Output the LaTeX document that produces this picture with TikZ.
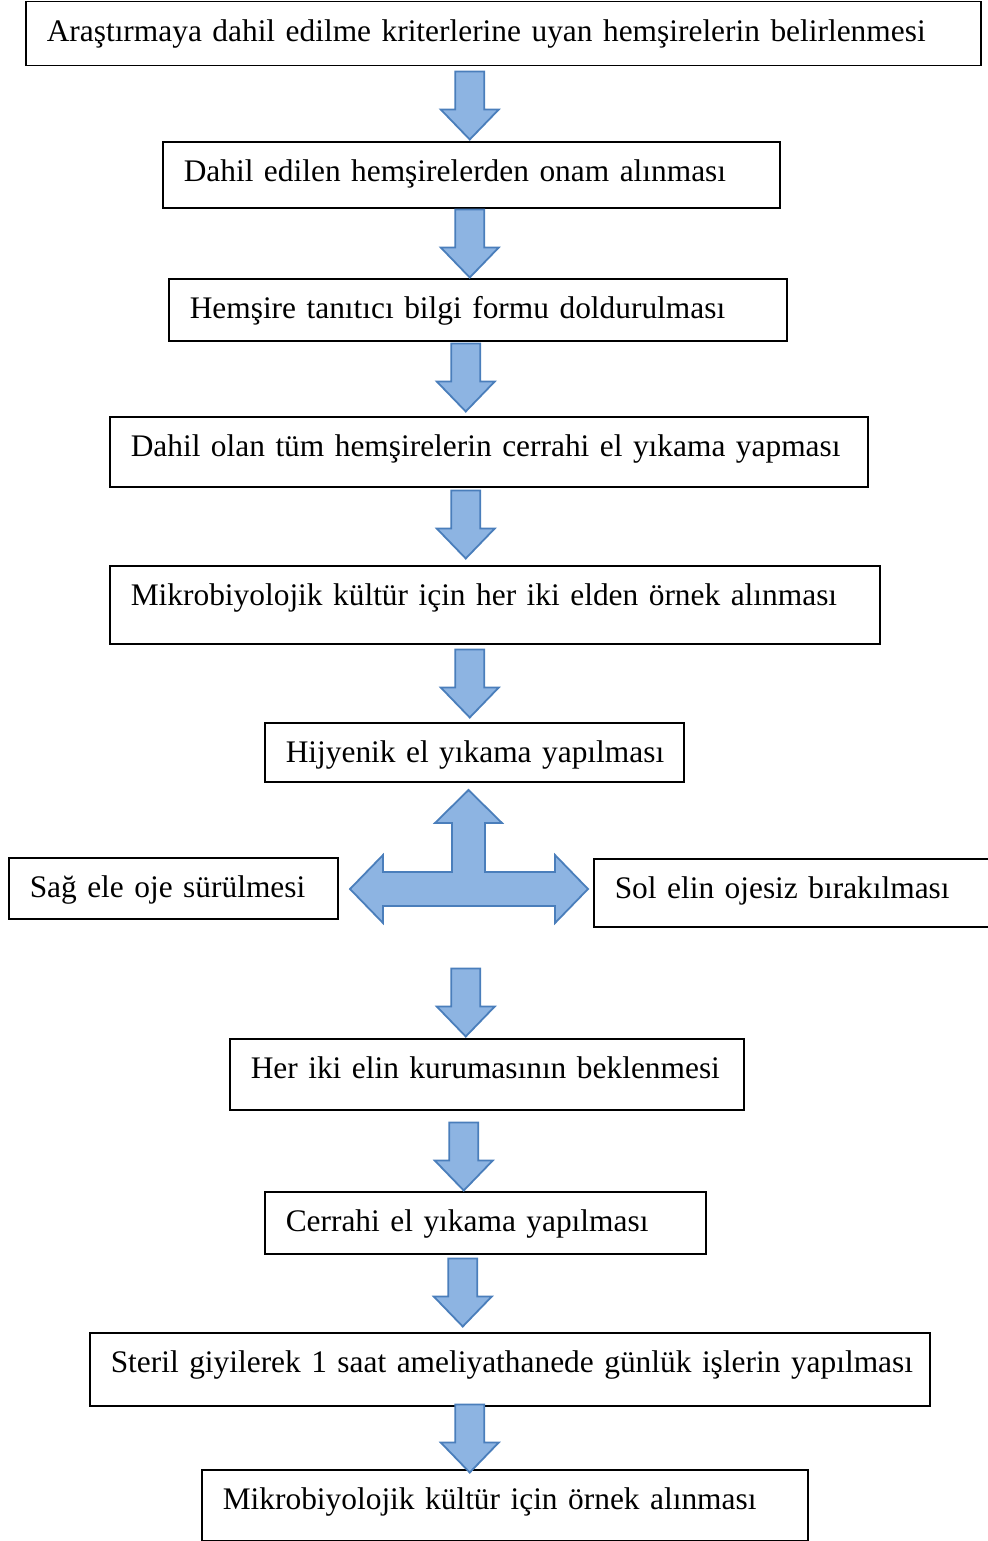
\documentclass[tikz,border=0pt]{standalone}
\usepackage{fontspec}
\setmainfont{Liberation Serif}
\usepackage{tikz}

\definecolor{okdolgu}{RGB}{141,180,226}
\definecolor{okcizgi}{RGB}{74,126,187}

\tikzset{
	kutu/.style={draw, line width=0.75pt, anchor=north west, align=left,
		inner xsep=10.5pt, inner ysep=0pt, text height=20pt,
		font=\fontsize{15.7}{19}\selectfont,
		execute at begin node=\hbox\bgroup, execute at end node=\egroup},
	blok/.style={fill=okdolgu, draw=okcizgi, line width=0.9pt, line join=miter},
	asagi/.pic={\draw[blok] (-14.5,0) -- (14.5,0) -- (14.5,38) -- (29,38) -- (0,68)
		-- (-29,38) -- (-14.5,38) -- cycle;}
}

\begin{document}
\begin{tikzpicture}[x=0.5pt, y=-0.5pt]
	\clip (0,0) rectangle (988,1541);
	\node[kutu, text width=456.5pt, text depth=12pt] (secim) at (25,1)
		{Araştırmaya dahil edilme kriterlerine uyan hemşirelerin belirlenmesi};
	\node[kutu, text width=287.5pt, text depth=13pt] (onam) at (162,141)
		{Dahil edilen hemşirelerden onam alınması};
	\node[kutu, text width=288pt, text depth=11pt] (form) at (168,278)
		{Hemşire tanıtıcı bilgi formu doldurulması};
	\node[kutu, text width=358pt, text depth=15pt] (cerrahi1) at (109,416)
		{Dahil olan tüm hemşirelerin cerrahi el yıkama yapması};
	\node[kutu, text width=364pt, text depth=19pt] (ornek1) at (109,565)
		{Mikrobiyolojik kültür için her iki elden örnek alınması};
	\node[kutu, text width=188.5pt, text depth=9.5pt] (hijyenik) at (264,722)
		{Hijyenik el yıkama yapılması};
	\node[kutu, text width=143.5pt, text depth=10.5pt] (sag) at (8,857)
		{Sağ ele oje sürülmesi};
	\node[kutu, text width=182.5pt, text depth=14pt] (sol) at (593,858)
		{Sol elin ojesiz bırakılması};
	\node[kutu, text width=236pt, text depth=15.5pt] (kuruma) at (229,1038)
		{Her iki elin kurumasının beklenmesi};
	\node[kutu, text width=199.5pt, text depth=11pt] (cerrahi2) at (264,1191)
		{Cerrahi el yıkama yapılması};
	\node[kutu, text width=399pt, text depth=16.5pt] (steril) at (89,1332)
		{Steril giyilerek 1 saat ameliyathanede günlük işlerin yapılması};
	\node[kutu, text width=282pt, text depth=15.5pt] (ornek2) at (201,1469)
		{Mikrobiyolojik kültür için örnek alınması};

	% ara oklar
	\path (secim.south) ++(-33.5,5) pic {asagi};
	\path (onam.south) ++(-1.5,1) pic {asagi};
	\path (form.south) ++(-12,2) pic {asagi};
	\path (cerrahi1.south) ++(-23,3) pic {asagi};
	\path (ornek1.south) ++(-25,5) pic {asagi};
	\path (hijyenik.south) ++(-8.5,186) pic {asagi};
	\path (kuruma.south) ++(-23,12) pic {asagi};
	\path (cerrahi2.south) ++(-22.5,4) pic {asagi};
	\path (steril.south) ++(-40,-2) pic {asagi};

	% uc yonlu ok
	\draw[blok] (452,823) -- (435,823) -- (468.5,790) -- (502,823) -- (485,823)
		-- (485,872) -- (555,872) -- (555,855) -- (588,889) -- (555,923) -- (555,906)
		-- (383,906) -- (383,923) -- (350,889) -- (383,855) -- (383,872) -- (452,872) -- cycle;
\end{tikzpicture}
\end{document}
